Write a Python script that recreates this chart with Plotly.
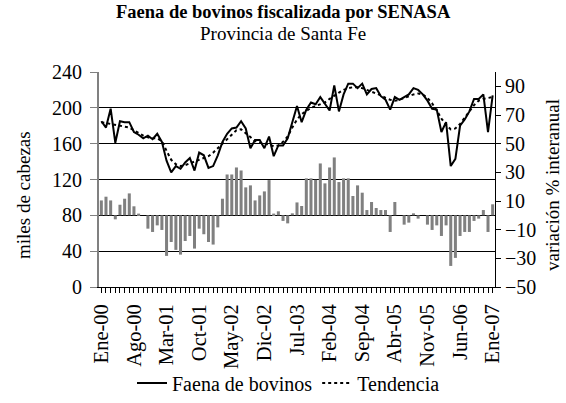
import plotly.graph_objects as go

month_names = ["Ene", "Feb", "Mar", "Abr", "May", "Jun", "Jul", "Ago", "Sep", "Oct", "Nov", "Dic"]
years = ["00", "01", "02", "03", "04", "05", "06", "07"]
categories = [f"{m}-{y}" for y in years for m in month_names][:85]

faena = [185, 178, 199, 161, 185, 184, 184, 173, 170, 166, 169, 165,
         171, 162, 141, 128, 135, 132, 139, 144, 130, 150, 147, 133,
         135, 147, 162, 171, 177, 178, 185, 177, 155, 164, 164, 155,
         168, 146, 158, 158, 166, 184, 202, 184, 198, 206, 204, 212,
         205, 197, 225, 196, 215, 227, 227, 222, 227, 215, 221, 222,
         213, 209, 198, 212, 209, 212, 215, 222, 220, 215, 208, 199,
         198, 173, 184, 135, 143, 180, 187, 196, 210, 210, 215, 173, 214]

tendencia = [184, 183, 182, 181, 180, 179, 178, 175, 172, 169, 167, 166,
             166, 163, 152, 142, 137, 135, 136, 138, 140, 142, 144, 146,
             150, 155, 161, 166, 171, 175, 176, 172, 167, 163, 161, 160,
             159, 157, 158, 162, 168, 178, 187, 193, 197, 200, 202, 204,
             206, 210, 214, 217, 220, 222, 223, 223, 222, 220, 218, 216,
             214, 211, 209, 208, 209, 211, 213, 215, 216, 215, 211, 205,
             197, 188, 181, 176, 177, 182, 189, 196, 203, 208, 210, 211, 212]

variacion = [10.4, 13.0, 10.4, -2.8, 7.4, 11.6, 15.3, 6.3, 1.2, 0.0, -9.3, -11.6,
             -7.0, -10.2, -28.3, -18.6, -24.1, -27.4, -17.9, -14.4, -23.2, -9.3, -13.2, -18.6,
             -20.4, -8.4, 11.6, 28.5, 28.5, 33.4, 31.3, 19.5, 20.9, 10.4, 13.9, 16.7,
             24.6, 1.2, 2.8, -3.9, -5.6, 1.4, 9.0, 6.5, 25.8, 25.8, 24.8, 36.2,
             22.3, 33.4, 40.4, 23.2, 25.8, 25.8, 13.5, 20.9, 15.8, 3.7, 9.3, 5.1,
             3.7, 3.7, -11.6, 9.3, 0.0, -6.5, -5.1, 1.4, -2.3, 0.0, -6.5, -10.2,
             -7.0, -14.4, -7.0, -35.3, -29.7, -14.4, -11.6, -11.6, -3.9, -2.3, 3.7, -11.6, 7.7]

tick_step = 7
idx = list(range(len(categories)))
tickvals = idx[::tick_step]
ticktext = [categories[i] for i in tickvals]

FONT = "Liberation Serif"


def f(size):
    return dict(family=FONT, size=size, color="black")


fig = go.Figure()
fig.add_trace(go.Bar(x=idx, y=variacion, yaxis="y2", marker=dict(color="#808080", line=dict(width=0)),
                     showlegend=False, name="variación"))
fig.add_trace(go.Scatter(x=idx, y=faena, mode="lines", name="Faena de bovinos",
                         line=dict(color="black", width=2)))
fig.add_trace(go.Scatter(x=idx, y=tendencia, mode="lines", name="Tendencia",
                         line=dict(color="black", width=2, dash="3px,3px")))

fig.update_layout(
    width=566, height=403,
    margin=dict(l=99, r=71, t=72, b=116, autoexpand=False),
    plot_bgcolor="white", paper_bgcolor="white",
    font=f(20),
    bargap=0.35,
    legend=dict(orientation="h", x=(132 - 99) / 396, xanchor="left", y=(287 - 383) / 215, yanchor="middle",
                font=f(20), bgcolor="rgba(0,0,0,0)"),
    xaxis=dict(range=[-0.5, 84.5], tickvals=tickvals, ticktext=ticktext, tickangle=-90,
               ticks="outside", ticklen=5, tickcolor="black", showline=True, linecolor="black",
               showgrid=False, zeroline=False, automargin=False, ticklabelstandoff=3,
               minor=dict(dtick=1, tick0=0, ticks="outside", ticklen=5, tickcolor="black", showgrid=False),
               tickfont=f(20.5)),
    yaxis=dict(range=[0, 240], dtick=40, showgrid=True, gridcolor="black", gridwidth=1,
               showline=True, linecolor="#808080", linewidth=2, ticks="outside", ticklen=7,
               tickcolor="#808080", zeroline=False, tickfont=f(20), automargin=False,
               ticklabelstandoff=4),
    yaxis2=dict(range=[-50, 100], tickvals=[-50, -30, -10, 10, 30, 50, 70, 90], overlaying="y",
                side="right", showgrid=False, showline=True, linecolor="black", ticks="outside",
                ticklen=5, tickcolor="black", zeroline=False, tickfont=f(20), automargin=False),
    annotations=[
        dict(text="<b>Faena de bovinos fiscalizada por SENASA</b>", xref="paper", yref="paper",
             x=(283 - 99) / 396, y=(287 - 12) / 215, xanchor="center", yanchor="middle",
             showarrow=False, font=f(18.5)),
        dict(text="Provincia de Santa Fe", xref="paper", yref="paper",
             x=(283 - 99) / 396, y=(287 - 33) / 215, xanchor="center", yanchor="middle",
             showarrow=False, font=f(19)),
        dict(text="miles de cabezas", xref="paper", yref="paper", x=(23 - 99) / 396, y=(287 - 195) / 215,
             xanchor="center", yanchor="middle", textangle=-90, showarrow=False, font=f(19)),
        dict(text="variación % interanual", xref="paper", yref="paper", x=(552 - 99) / 396,
             y=(287 - 185) / 215, xanchor="center", yanchor="middle", textangle=-90,
             showarrow=False, font=f(19)),
    ],
)

fig.write_html("out.html", post_script="document.body.style.margin='0';",
               config={"displayModeBar": False})
